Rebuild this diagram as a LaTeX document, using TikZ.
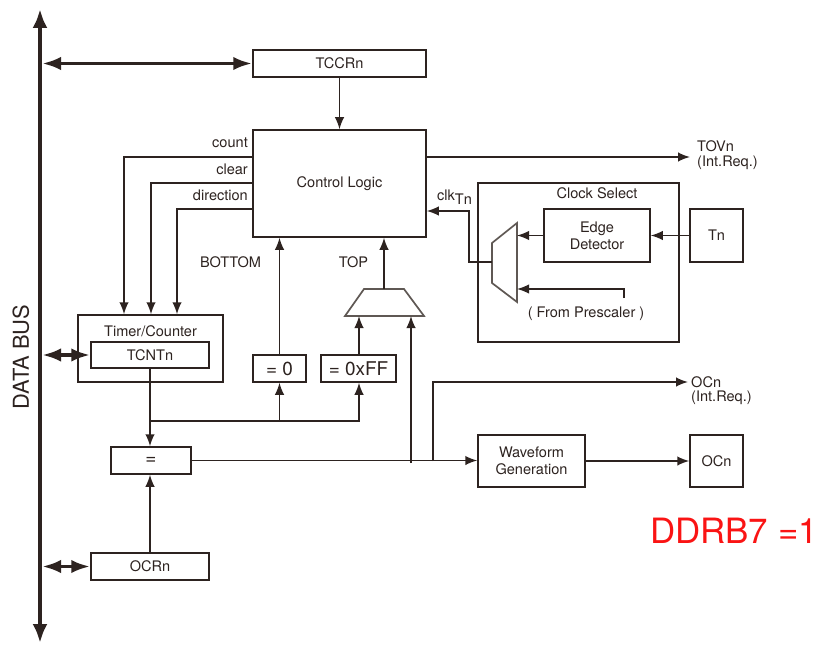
\documentclass[tikz,border=0pt]{standalone}
\usepackage{fontspec}
\setmainfont{TeX Gyre Heros}
\usetikzlibrary{arrows.meta}
\definecolor{ink}{RGB}{45,35,32}
\definecolor{muxc}{RGB}{95,88,84}
\definecolor{redtxt}{RGB}{250,20,20}
\begin{document}
\begin{tikzpicture}[x=1bp,y=-1bp,
  every node/.style={inner sep=0pt, text=ink, font=\fontsize{14.6}{17}\selectfont},
  box/.style={draw=ink, line width=1.5bp},
  big/.style={font=\fontsize{19}{22}\selectfont},
  arr/.style={draw=ink, line width=1.5bp, -{Latex[length=12bp,width=9.5bp]}},
  busarr/.style={draw=ink, line width=3.8bp, {Latex[length=19bp,width=13.5bp]}-{Latex[length=19bp,width=13.5bp]}},
  mainbus/.style={draw=ink, line width=4.5bp, {Latex[length=19bp,width=15bp]}-{Latex[length=19bp,width=15bp]}},
  muxshape/.style={draw=muxc, line width=1.7bp, line join=miter}]
\fill[white] (0,0) rectangle (823,646);
\useasboundingbox (0,0) rectangle (823,646);

% boxes
\node[box,minimum width=173bp,minimum height=27bp] (tccr) at (339.5,63.5) {TCCRn};
\node[box,minimum width=173bp,minimum height=107bp] (cl) at (339.5,183.5) {Control Logic};
\node[box,minimum width=145bp,minimum height=67bp] (tc) at (150.5,348.5) {};
\node (tctitle) at (150.5,331) {Timer/Counter};
\node[box,minimum width=118bp,minimum height=26bp] (tcnt) at (150,355) {TCNTn};
\node[box,big,minimum width=53bp,minimum height=27bp] (eqz) at (279.5,368.5) {= 0};
\node[box,big,minimum width=75bp,minimum height=27bp] (eqff) at (358.5,368.5) {= 0xFF};
\node[box,big,minimum width=80bp,minimum height=27bp] (cmp) at (151,460.5) {=};
\node[box,minimum width=118bp,minimum height=27bp] (ocr) at (150,566.5) {OCRn};
\node[box,minimum width=107bp,minimum height=52bp,align=center] (wg) at (531.5,461) {Waveform\\Generation};
\node[box,minimum width=53bp,minimum height=52bp] (ocn) at (716.5,461) {OCn};
\node[box,minimum width=201bp,minimum height=159bp] (cs) at (578.5,262.5) {};
\node (cstitle) at (597,193) {Clock Select};
\node[box,minimum width=106bp,minimum height=53bp,align=center] (ed) at (597,235.5) {Edge\\Detector};
\node[box,minimum width=53bp,minimum height=53bp] (tn) at (716.5,235.5) {Tn};

% multiplexers
\draw[muxshape] (364,289) -- (404,289) -- (424,316) -- (345,316) -- cycle;
\coordinate (topout) at (384,289);
\coordinate (topina) at (359,316);
\coordinate (topinb) at (411,316);
\draw[muxshape] (517,223) -- (517,302) -- (492,283) -- (492,243) -- cycle;
\coordinate (ckina) at (517,236);
\coordinate (ckinb) at (517,289);
\coordinate (ckout) at (492,262);

% labels
\node[anchor=east] (lcount) at (248,143) {count};
\node[anchor=east] (lclear) at (248,169) {clear};
\node[anchor=east] (ldir) at (248,195) {direction};
\node (lbot) at (230.5,262) {BOTTOM};
\node (ltop) at (353.5,262) {TOP};
\node[anchor=west] (ltov) at (697,146) {TOVn};
\node[anchor=west] (ltovr) at (697,163) {(Int.Req.)};
\node[anchor=west] (locn) at (691,382) {OCn};
\node[anchor=west] (locnr) at (691,398) {(Int.Req.)};
\node (lpre) at (586,314) {( From Prescaler )};
\node[anchor=base west] (lclk) at (437,201) {clk\raisebox{-4bp}{Tn}};
\node[rotate=90, font=\fontsize{22}{24}\selectfont] (ldb) at (21,357) {DATA BUS};
\node[anchor=base west, text=redtxt, font=\fontsize{35}{40}\selectfont] (ddr) at (650,543) {DDRB7 =1};

% data bus
\coordinate (bustop) at (40,9);
\coordinate (busbot) at (40,643);
\draw[mainbus] (bustop) -- (busbot);
\draw[busarr] (42,63.5) -- (tccr.west);
\draw[busarr] (42,355) -- (tcnt.west);
\draw[busarr] (42,566.5) -- (ocr.west);

% control connections
\draw[arr] (tccr) -- (cl);
\draw[arr] (cl.west |- 0,157) -| (124,0 |- tc.north);
\draw[arr] (cl.west |- 0,183) -| (151,0 |- tc.north);
\draw[arr] (cl.west |- 0,209) -| (177,0 |- tc.north);
\coordinate (tovend) at (690,157);
\draw[arr] (cl.east |- tovend) -- (tovend);
\draw[arr] (eqz.north) -- (eqz.north |- cl.south);
\draw[arr] (topout) -- (topout |- cl.south);
\draw[arr] (eqff.north -| topina) -- (topina);

% counter path
\draw[arr] (tcnt.south) -- (tcnt.south |- cmp.north);
\draw[arr] (tcnt.south |- 0,421) -| (eqff.south -| topina);
\draw[arr] (eqz.south |- 0,421) -- (eqz.south);
\draw[arr] (ocr.north) -- (ocr.north |- cmp.south);
\draw[arr] (cmp.east) -- (cmp.east -| wg.west);
\draw[arr] (topinb |- 0,463) -- (topinb);
\coordinate (ocnend) at (688,382);
\draw[arr] (433,461) |- (ocnend);
\draw[arr] (wg) -- (ocn);

% clock select
\draw[arr] (tn) -- (ed);
\draw[arr] (ed.west) -- (ed.west -| ckina);
\draw[arr] (624,298) -- (624,289) -- (ckinb);
\draw[arr] (ckout) -- (469,262) -- (469,211) -- (cl.east |- 0,211);
\end{tikzpicture}
\end{document}
